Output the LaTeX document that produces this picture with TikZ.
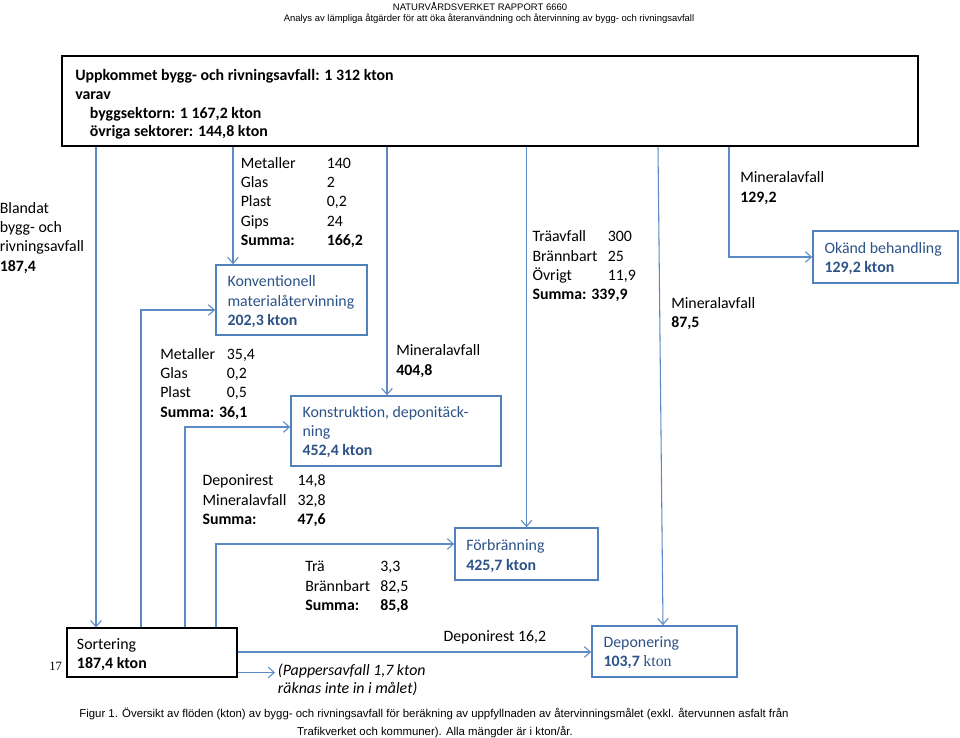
\documentclass[tikz,border=0pt]{standalone}
\usepackage{fontspec}
\setmainfont{Carlito}
\newfontfamily\arialfont{Liberation Sans}
\newfontfamily\timesfont{Liberation Serif}
\usetikzlibrary{arrows.meta}
\definecolor{boxblue}{RGB}{79,129,189}
\definecolor{lineblue}{RGB}{92,138,196}
\definecolor{txtblue}{RGB}{44,82,135}
\newcommand\fs{\fontsize{11.9}{14.5}\selectfont}
\newcommand\rows[1]{\begin{tabular}[t]{@{}l@{}}#1\end{tabular}}
\newcommand\cols[2]{\begin{tabular}[t]{@{}p{#1}@{}l@{}}#2\end{tabular}}
\tikzset{
  lbl/.style={anchor=base west, inner sep=0pt, font=\fs},
  boxlbl/.style={lbl, text=txtblue},
  bluebox/.style={draw=boxblue, line width=1.3pt, inner sep=0pt},
  blackbox/.style={draw=black, inner sep=0pt},
  flow/.style={draw=lineblue, line width=0.8pt, -{Straight Barb[length=4.5pt,width=8pt]}},
  doctxt/.style={anchor=base, inner sep=0pt},
}
\begin{document}
\begin{tikzpicture}[x=0.75pt,y=0.75pt,yscale=-1,xscale=1]
\useasboundingbox (0,0) rectangle (960,738);

%Shape: Rectangle [id:top]
\node [blackbox, line width=2pt, minimum width=642pt, minimum height=67.5pt] (top) at (490,101) {};
%Shape: Rectangle [id:konv]
\node [bluebox, minimum width=113.25pt, minimum height=52.5pt] (konv) at (291.5,300) {};
%Shape: Rectangle [id:konstr]
\node [bluebox, minimum width=157.5pt, minimum height=52.5pt] (konstr) at (396,431) {};
%Shape: Rectangle [id:forbr]
\node [bluebox, minimum width=107.25pt, minimum height=39pt] (forbr) at (526.5,554) {};
%Shape: Rectangle [id:depon]
\node [bluebox, minimum width=108.75pt, minimum height=38.25pt] (depon) at (664.5,651.5) {};
%Shape: Rectangle [id:okand]
\node [bluebox, minimum width=108.75pt, minimum height=39pt] (okand) at (885.5,257) {};
%Shape: Rectangle [id:sort]
\node [blackbox, line width=1pt, minimum width=127.5pt, minimum height=36.75pt] (sort) at (152,652.5) {};

% taps and bends
\coordinate (tSort) at (96,146);
\coordinate (tKonv) at (233,146);
\coordinate (tKonstr) at (387,146);
\coordinate (tForbr) at (526.5,146);
\coordinate (tDepon) at (658,146);
\coordinate (eDepon) at (663,600);
\coordinate (tOkand) at (729,146);
\coordinate (bKonv) at (141,310);
\coordinate (bKonstr) at (185,427);
\coordinate (bForbr) at (216,544);
\coordinate (yDep) at (0,652);
\coordinate (pap) at (275,672.5);

%Straight Lines
\draw [flow] (top.south -| tSort) -- (sort.north -| tSort);
\draw [flow] (top.south -| tKonv) -- (konv.north -| tKonv);
\draw [flow] (top.south -| tKonstr) -- (konstr.north -| tKonstr);
\draw [flow] (top.south -| tForbr) -- (forbr.north -| tForbr);
\draw [flow] (top.south -| tDepon) -- (depon.north -| eDepon);
\draw [flow] (top.south -| tOkand) |- (okand.west);
\draw [flow] (sort.north -| bKonv) -- (bKonv) -- (konv.west |- bKonv);
\draw [flow] (sort.north -| bKonstr) -- (bKonstr) -- (konstr.west |- bKonstr);
\draw [flow] (sort.north -| bForbr) -- (bForbr) -- (forbr.west |- bForbr);
\draw [flow] (sort.east |- yDep) -- (depon.west |- yDep);
\draw [flow] (sort.east |- pap) -- (pap);

% Text Node
\draw (480,11) node [doctxt, font=\arialfont\fontsize{7.1}{8}\selectfont] (repTitle) {NATURVÅRDSVERKET RAPPORT 6660};
% Text Node
\draw (489,21.5) node [doctxt, font=\arialfont\fontsize{7.1}{8}\selectfont] (repSub) {Analys av lämpliga åtgärder för att öka återanvändning och återvinning av bygg- och rivningsavfall};
% Text Node
\draw (75,80.7) node [lbl, font=\fontsize{11.9}{14}\selectfont\bfseries] (topText) {\rows{Uppkommet bygg- och rivningsavfall: 1 312 kton\\ varav\\ \hspace{11pt}byggsektorn: 1 167,2 kton\\ \hspace{11pt}övriga sektorer: 144,8 kton}};
% Text Node
\draw (-0.5,213.3) node [lbl] (mixText) {\rows{Blandat\\ bygg- och\\ rivningsavfall\\ \textbf{187,4}}};
% Text Node
\draw (240.5,168.3) node [lbl] (konvIn) {\cols{64.5pt}{Metaller & 140\\ Glas & 2\\ Plast & 0,2\\ Gips & 24\\ \textbf{Summa:} & \textbf{166,2}}};
% Text Node
\draw (227.3,286.7) node [boxlbl] (konvText) {\rows{Konventionell\\ materialåtervinning\\ \textbf{202,3 kton}}};
% Text Node
\draw (160,359.3) node [lbl] (sortKonv) {\cols{50pt}{Metaller & 35,4\\ Glas & 0,2\\ Plast & 0,5\\ \multicolumn{2}{@{}l@{}}{\textbf{Summa: 36,1}}}};
% Text Node
\draw (396,355.7) node [lbl] (minKonstr) {\rows{Mineralavfall\\ \textbf{404,8}}};
% Text Node
\draw (302.3,417.3) node [boxlbl] (konstrText) {\rows{Konstruktion, deponitäck-\\ ning\\ \textbf{452,4 kton}}};
% Text Node
\draw (202.3,485.7) node [lbl] (sortKonstr) {\cols{71.25pt}{Deponirest & 14,8\\ Mineralavfall & 32,8\\ \textbf{Summa:} & \textbf{47,6}}};
% Text Node
\draw (305,571.7) node [lbl] (sortForbr) {\cols{56.25pt}{Trä & 3,3\\ Brännbart & 82,5\\ \textbf{Summa:} & \textbf{85,8}}};
% Text Node
\draw (532.3,241.7) node [lbl] (forbrIn) {\cols{56.5pt}{Träavfall & 300\\ Brännbart & 25\\ Övrigt & 11,9\\ \multicolumn{2}{@{}l@{}}{\textbf{Summa: 339,9}}}};
% Text Node
\draw (466,550.7) node [boxlbl] (forbrText) {\rows{Förbränning\\ \textbf{425,7 kton}}};
% Text Node
\draw (671,308.3) node [lbl] (minDepon) {\rows{Mineralavfall\\ \textbf{87,5}}};
% Text Node
\draw (740,182.7) node [lbl] (minOkand) {\rows{Mineralavfall\\ \textbf{129,2}}};
% Text Node
\draw (824.3,253.3) node [boxlbl] (okandText) {\rows{Okänd behandling\\ \textbf{129,2 kton}}};
% Text Node
\draw (443.3,641.7) node [lbl] (restDepon) {Deponirest 16,2};
% Text Node
\draw (603.3,647.3) node [boxlbl] (deponText) {\rows{Deponering\\ \textbf{103,7} {\timesfont kton}}};
% Text Node
\draw (76.7,649) node [lbl] (sortText) {\rows{Sortering\\ \textbf{187,4 kton}}};
% Text Node
\draw (49,670) node [lbl, font=\timesfont\fontsize{9.5}{11}\selectfont] (pageNo) {17};
% Text Node
\draw (277.7,675.7) node [lbl, font=\fontsize{11.9}{13.2}\selectfont\itshape] (papText) {\rows{(Pappersavfall 1,7 kton\\ räknas inte in i målet)}};
% Text Node
\draw (434,717) node [doctxt, font=\arialfont\fontsize{8.55}{10}\selectfont] (capA) {Figur 1. Översikt av flöden (kton) av bygg- och rivningsavfall för beräkning av uppfyllnaden av återvinningsmålet (exkl. återvunnen asfalt från};
% Text Node
\draw (435,735) node [doctxt, font=\arialfont\fontsize{8.55}{10}\selectfont] (capB) {Trafikverket och kommuner). Alla mängder är i kton/år.};
\end{tikzpicture}
\end{document}
